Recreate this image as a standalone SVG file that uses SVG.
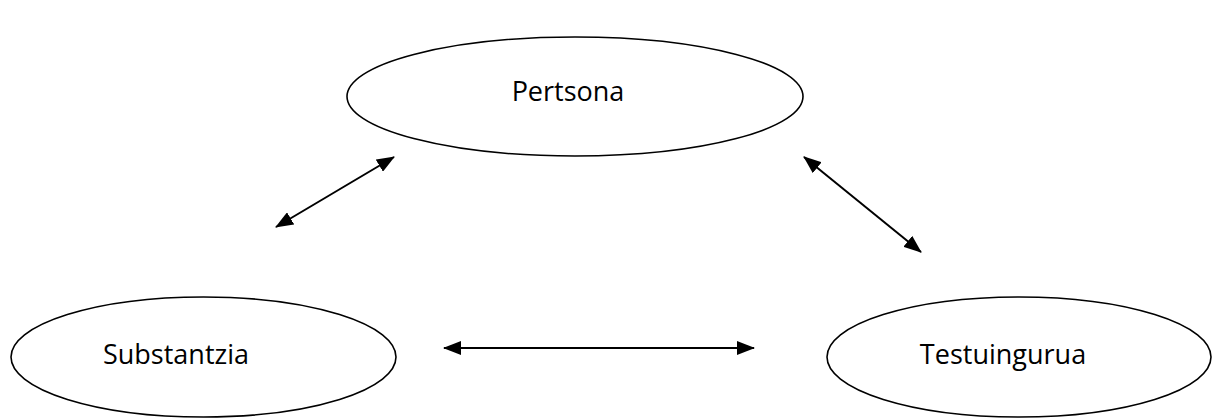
<svg xmlns="http://www.w3.org/2000/svg" width="1214" height="418" viewBox="0 0 1214 418">
<style>
.node ellipse{fill:#fff;stroke:#000;stroke-width:1.6}
.node text{font-family:"Open Sans","Liberation Sans",sans-serif;font-size:27px;fill:#000;text-anchor:middle}
.conn line{stroke:#000;stroke-width:2;marker-start:url(#ah);marker-end:url(#ah)}
</style>
<defs>
<marker id="ah" viewBox="0 0 18 14" refX="17" refY="7" markerWidth="18" markerHeight="14" markerUnits="userSpaceOnUse" orient="auto-start-reverse">
<path d="M0,0 L18,7 L0,14 Z" fill="#000"/>
</marker>
</defs>
<rect width="1214" height="418" fill="#fff"/>
<g id="pertsona" class="node">
<ellipse cx="575" cy="96.5" rx="228" ry="59.5"/>
<text x="568" y="101">Pertsona</text>
</g>
<g id="substantzia" class="node">
<ellipse cx="203.5" cy="357" rx="192.5" ry="60"/>
<text x="176" y="364">Substantzia</text>
</g>
<g id="testuingurua" class="node">
<ellipse cx="1019" cy="357" rx="192" ry="60"/>
<text x="1003" y="364">Testuingurua</text>
</g>
<g id="connectors" class="conn">
<line x1="276" y1="227" x2="394" y2="157"/>
<line x1="804" y1="157" x2="921" y2="252"/>
<line x1="444" y1="348" x2="754" y2="348"/>
</g>
</svg>
